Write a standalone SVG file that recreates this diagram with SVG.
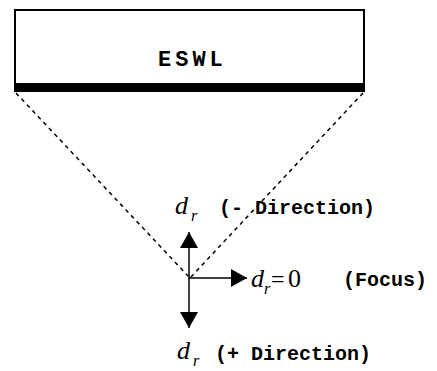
<svg xmlns="http://www.w3.org/2000/svg" width="437" height="371" viewBox="0 0 437 371">
<style>
.mono{font-family:"Liberation Mono","Courier New",monospace;font-weight:bold;font-size:20px;fill:#000}
.it{font-family:"Liberation Serif","Times New Roman",serif;font-style:italic;fill:#000}
.rm{font-family:"Liberation Serif","Times New Roman",serif;fill:#000}
.dash{stroke:#000;stroke-width:1.5;stroke-dasharray:4 4;fill:none}
.arr{stroke:#000;stroke-width:1.5;fill:none;marker-end:url(#ah)}
</style>
<defs>
<marker id="ah" viewBox="0 0 16 18" refX="16" refY="9" markerWidth="16" markerHeight="18" markerUnits="userSpaceOnUse" orient="auto">
<path d="M0,0 L16,9 L0,18 z" fill="#000"/>
</marker>
</defs>
<rect width="437" height="371" fill="#fff"/>
<g id="eswl">
<rect x="15" y="10" width="349" height="80" fill="#fff" stroke="#000" stroke-width="2"/>
<rect x="14" y="83" width="351" height="9" fill="#000"/>
<text class="mono" x="158" y="66" style="font-size:22px;letter-spacing:4px">ESWL</text>
</g>
<g id="connectors">
<line class="dash" x1="16" y1="93" x2="190" y2="278"/>
<line class="dash" x1="363" y1="93" x2="190" y2="278"/>
<line class="arr" x1="189" y1="278" x2="189" y2="232"/>
<line class="arr" x1="189" y1="278" x2="189" y2="328"/>
<line class="arr" x1="189" y1="278" x2="247" y2="278"/>
</g>
<g id="minus-direction">
<text class="it" x="175" y="214" font-size="26">d</text>
<text class="it" x="191" y="221" font-size="16">r</text>
<text class="mono" x="219" y="214">(- Direction)</text>
</g>
<g id="focus">
<text class="it" x="251" y="287" font-size="26">d</text>
<text class="it" x="264" y="294" font-size="16">r</text>
<text class="rm" x="271" y="287" font-size="24">=</text>
<text class="rm" x="288" y="287" font-size="26">0</text>
<text class="mono" x="343" y="286">(Focus)</text>
</g>
<g id="plus-direction">
<text class="it" x="177" y="359" font-size="26">d</text>
<text class="it" x="193" y="366" font-size="16">r</text>
<text class="mono" x="215" y="360">(+ Direction)</text>
</g>
</svg>
